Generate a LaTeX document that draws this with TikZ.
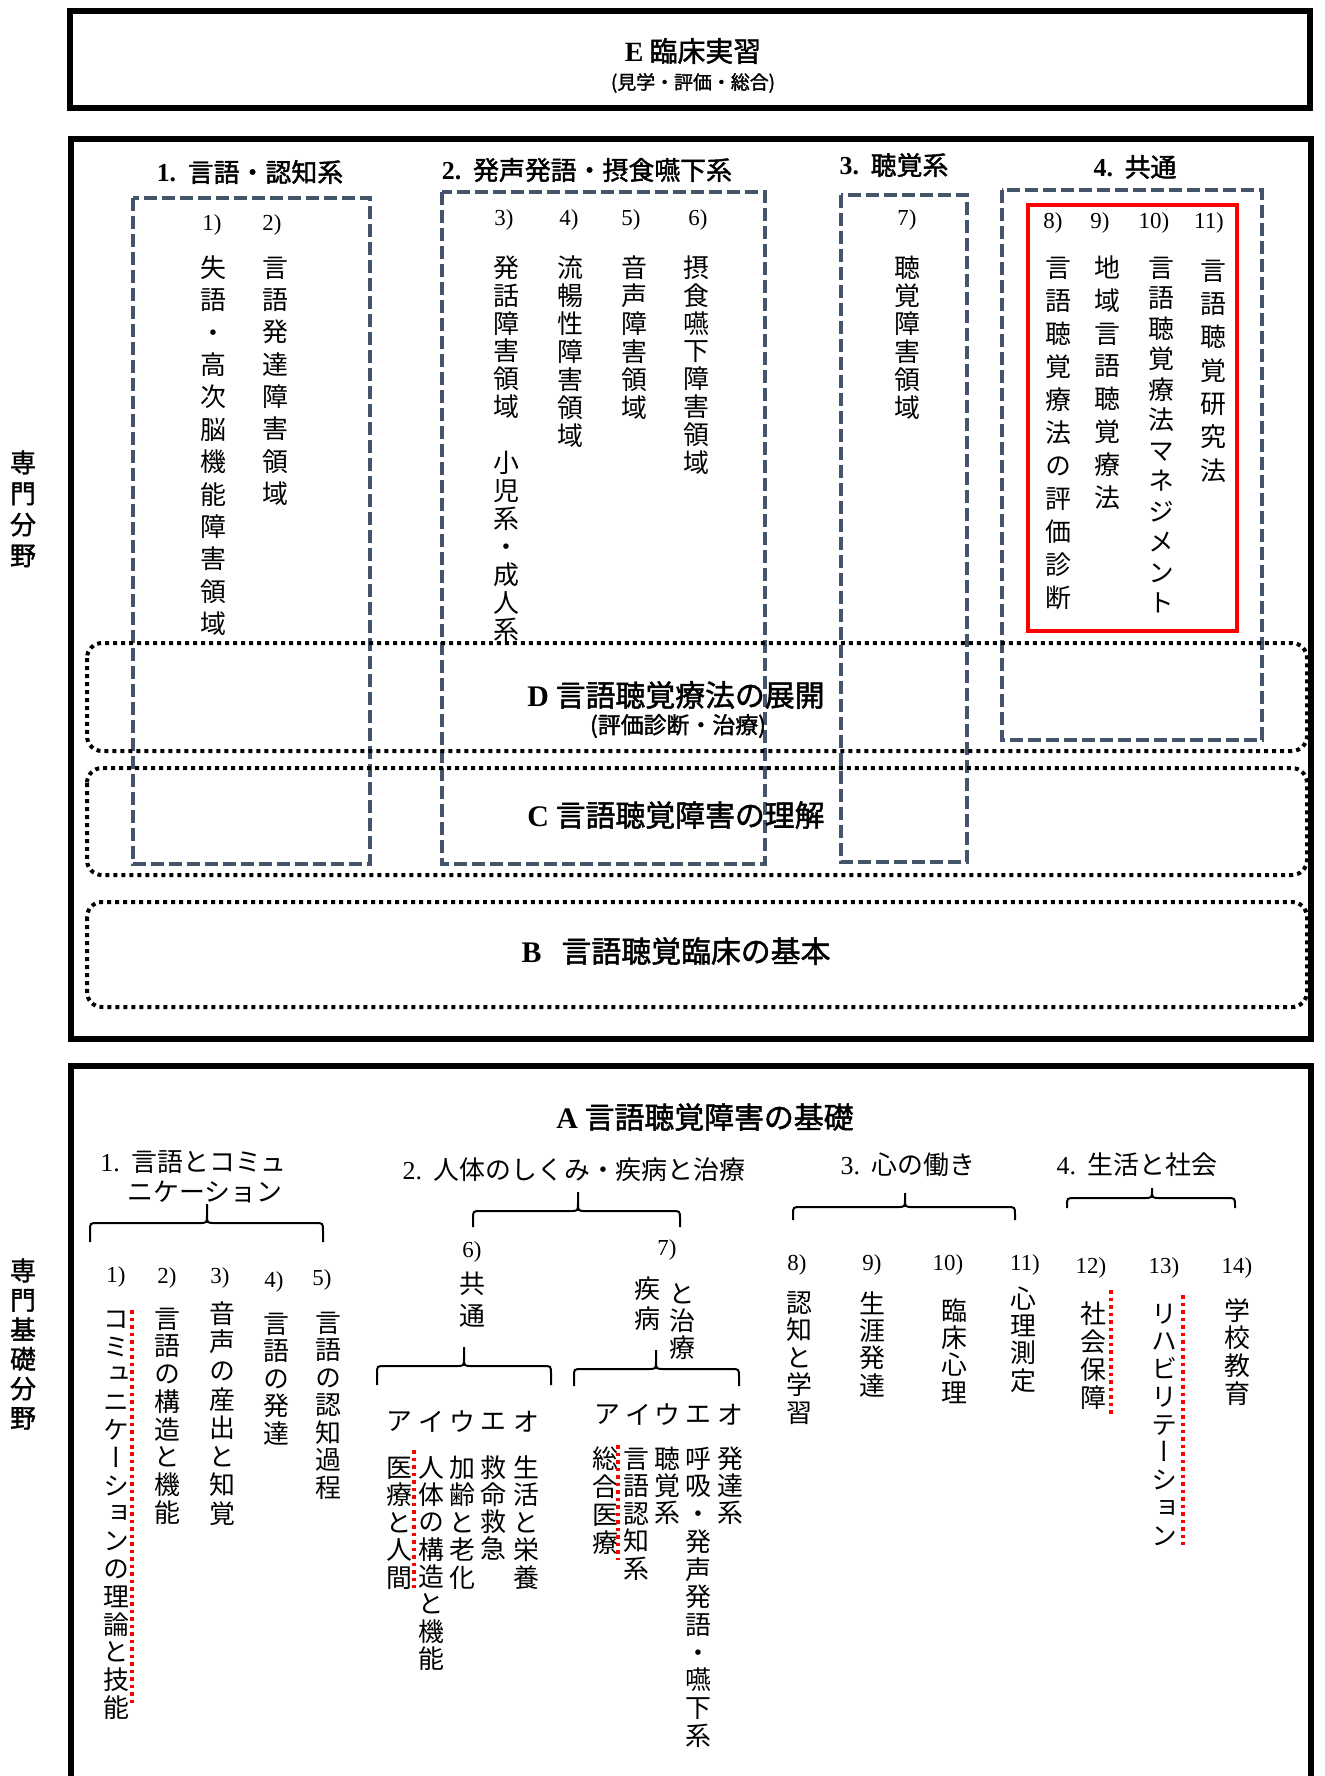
\documentclass[tikz,border=0pt]{standalone}
\usepackage{fontspec}
\setmainfont{Liberation Serif}
\newfontfamily\cjk{Noto Sans CJK JP}
\newfontfamily\cjkb{Noto Sans CJK JP}[FakeBold=1.6]
\newfontfamily\vjp{Noto Sans CJK JP}[RawFeature=+vert]
\newfontfamily\vjpb{Noto Sans CJK JP}[RawFeature=+vert,FakeBold=1.4]
\newlength\pxu \setlength\pxu{0.02cm}
\newlength\vtp
\newcommand\fs[1]{\fontsize{\fpeval{#1*0.5669}pt}{\fpeval{#1*0.68}pt}\selectfont}
\def\vtend{}
\def\vtloop#1{\ifx#1\vtend\else\vtchar{#1}\expandafter\vtloop\fi}
\newcommand\vtchar[1]{\hbox to 1.1em{\hss\vrule width 0pt height \dimexpr0.5\vtp+0.38em\relax depth \dimexpr0.5\vtp-0.38em\relax #1\hss}}
\newcommand\vt[2]{\setlength\vtp{#1\pxu}\vbox{\offinterlineskip\vtloop#2\vtend}}
\tikzset{
  vcol/.style={anchor=north, inner sep=0pt, font=\vjp\fs{26}},
  num/.style={inner sep=0pt, font=\rmfamily\fs{23}},
  hdr/.style={inner sep=0pt, font=\cjkb\fs{26}},
  bhdr/.style={inner sep=0pt, font=\cjk\fs{26}},
  big/.style={inner sep=0pt, font=\cjkb\fs{30}},
  frame/.style={draw=black, line width=0.12cm},
  dashbox/.style={draw={rgb,255:red,68;green,84;blue,106}, line width=0.07cm, dash pattern=on 0.26cm off 0.1cm},
  redbox/.style={draw=red, line width=0.09cm},
  dotbox/.style={draw=black, line width=0.08cm, dash pattern=on 0.08cm off 0.08cm, rounded corners=0.3cm},
  brk/.style={draw=black, line width=0.04cm},
  reddot/.style={draw=red, line width=0.07cm, dash pattern=on 0.07cm off 0.08cm},
}
\newcommand\vcol[6][]{\node[vcol,#1] (#2) at (#3,{#4-#5/2}) {\vt{#5}{#6}};}
\newcommand\mybrace[6]{% xl xt xr ytip yh yend
  \draw[brk] (#1,#6) -- (#1,{#5+8}) .. controls (#1,#5) .. ({#1+8},#5) -- ({#2-8},#5)
    .. controls (#2,#5) .. (#2,{#5-8}) -- (#2,#4) -- (#2,{#5-8}) .. controls (#2,#5) .. ({#2+8},#5)
    -- ({#3-8},#5) .. controls (#3,#5) .. (#3,{#5+8}) -- (#3,#6);}
\begin{document}
\begin{tikzpicture}[x=0.02cm,y=-0.02cm]
\useasboundingbox (0,0) rectangle (1325,1776);
\clip (0,0) rectangle (1325,1776);
\fill[white] (0,0) rectangle (1325,1776);

% ---------- E box ----------
\draw[frame] (70,11) rectangle (1310,108);
\node[inner sep=0pt, font=\cjkb\fs{28}] (Etitle) at (693,51) {{\rmfamily\bfseries E}\ 臨床実習};
\node[inner sep=0pt, font=\cjkb\fs{19}] (Esub) at (693,83) {(見学・評価・総合)};

% ---------- 専門分野 box ----------
\draw[frame] (71,139) rectangle (1311,1039);
\vcol[font=\vjpb\fs{26}]{L1}{23}{462}{31}{専門分野}

% dashed group boxes
\draw[dashbox] (133,198) rectangle (370,864);
\draw[dashbox] (442,192) rectangle (765,864);
\draw[dashbox] (841,195) rectangle (967,862);
\draw[dashbox] (1002,190) rectangle (1262,740);
\draw[redbox] (1028,205) rectangle (1237,631);

% dotted layer boxes
\draw[dotbox] (87,643) rectangle (1307,751);
\draw[dotbox] (87,768) rectangle (1307,875);
\draw[dotbox] (87,902) rectangle (1307,1007);

\node[big] (Dt) at (676,695) {{\rmfamily\bfseries D}\ 言語聴覚療法の展開};
\node[inner sep=0pt, font=\cjkb\fs{23}] (Ds) at (678,726) {(評価診断・治療)};
\node[big] (Ct) at (676,815) {{\rmfamily\bfseries C}\ 言語聴覚障害の理解};
\node[big] (Bt) at (676,951) {{\rmfamily\bfseries B}\ \ \ 言語聴覚臨床の基本};

% headers
\node[hdr] (h1) at (250,172) {{\rmfamily\bfseries 1.}\hspace{0.45em}言語・認知系};
\node[hdr] (h2) at (587,170) {{\rmfamily\bfseries 2.}\hspace{0.45em}発声発語・摂食嚥下系};
\node[hdr] (h3) at (894,165) {{\rmfamily\bfseries 3.}\hspace{0.45em}聴覚系};
\node[hdr] (h4) at (1135,167) {{\rmfamily\bfseries 4.}\hspace{0.45em}共通};

% numbers and columns (top)
\node[num] (t1) at (212,225) {1)};
\node[num] (t2) at (272,225) {2)};
\node[num] (t3) at (504,220) {3)};
\node[num] (t4) at (569,220) {4)};
\node[num] (t5) at (631,220) {5)};
\node[num] (t6) at (698,220) {6)};
\node[num] (t7) at (907,220) {7)};
\node[num] (t8) at (1053,223) {8)};
\node[num] (t9) at (1100,223) {9)};
\node[num] (t10) at (1154,223) {10)};
\node[num] (t11) at (1209,223) {11)};
\vcol{c1}{213}{267}{32.4}{失語・高次脳機能障害領域}
\vcol{c2}{275}{267}{32.3}{言語発達障害領域}
\vcol{c3}{506}{267}{27.9}{発話障害領域　小児系・成人系}
\vcol{c4}{570}{267}{28}{流暢性障害領域}
\vcol{c5}{634}{267}{28}{音声障害領域}
\vcol{c6}{696}{267}{27.9}{摂食嚥下障害領域}
\vcol{c7}{907}{267}{28}{聴覚障害領域}
\vcol{c8}{1058}{267}{33}{言語聴覚療法の評価診断}
\vcol{c9}{1107}{267}{32.9}{地域言語聴覚療法}
\vcol{c10}{1161}{267}{30.5}{言語聴覚療法マネジメント}
\vcol{c11}{1213}{270}{33.3}{言語聴覚研究法}

% ---------- 専門基礎分野 box ----------
\draw[frame] (71,1066) rectangle (1311,1810);
\vcol[font=\vjpb\fs{26}]{L2}{23}{1270}{29.5}{専門基礎分野}

\node[big] (At) at (705,1117) {{\rmfamily\bfseries A}\ 言語聴覚障害の基礎};

\node[bhdr, anchor=west] (g1a) at (100,1162) {{\rmfamily 1.}\hspace{0.45em}言語とコミュ};
\node[bhdr, anchor=west] (g1b) at (127,1192) {ニケーション};
\node[bhdr] (g2) at (574,1170) {{\rmfamily 2.}\hspace{0.45em}人体のしくみ・疾病と治療};
\node[bhdr] (g3) at (908,1165) {{\rmfamily 3.}\hspace{0.45em}心の働き};
\node[bhdr] (g4) at (1137,1165) {{\rmfamily 4.}\hspace{0.45em}生活と社会};

\mybrace{90}{207}{323}{1204}{1223}{1242}
\mybrace{473}{578}{680}{1192}{1211}{1227}
\mybrace{793}{905}{1015}{1193}{1207}{1220}
\mybrace{1067}{1152}{1235}{1188}{1198}{1208}
\mybrace{377}{464}{551}{1347}{1366}{1385}
\mybrace{574}{656}{739}{1350}{1369}{1386}

% group 1
\node[num] (b1) at (116,1277) {1)};
\node[num] (b2) at (167,1278) {2)};
\node[num] (b3) at (220,1278) {3)};
\node[num] (b4) at (274,1282) {4)};
\node[num] (b5) at (322,1280) {5)};
\vcol{d1}{116}{1318}{27.8}{コミュニケーションの理論と技能}
\vcol{d2}{167}{1318}{27.7}{言語の構造と機能}
\vcol{d3}{222}{1313}{28.6}{音声の産出と知覚}
\vcol{d4}{276}{1323}{27.5}{言語の発達}
\vcol{d5}{328}{1322}{27.5}{言語の認知過程}

% group 2
\node[num] (b6) at (472,1252) {6)};
\vcol{d6}{472}{1283}{32}{共通}
\node[num] (b7) at (667,1250) {7)};
\vcol{d7a}{647}{1288}{30}{疾病}
\vcol{d7b}{682}{1293}{27}{と治療}

\node[bhdr] (k6a) at (399,1422) {ア};
\node[bhdr] (k6b) at (431,1422) {イ};
\node[bhdr] (k6c) at (462,1422) {ウ};
\node[bhdr] (k6d) at (493,1422) {エ};
\node[bhdr] (k6e) at (526,1422) {オ};
\vcol{e1}{399}{1467}{27.5}{医療と人間}
\vcol{e2}{431}{1467}{27.3}{人体の構造と機能}
\vcol{e3}{462}{1467}{27.5}{加齢と老化}
\vcol{e4}{493}{1467}{27}{救命救急}
\vcol{e5}{526}{1467}{27.5}{生活と栄養}

\node[bhdr] (k7a) at (607,1415) {ア};
\node[bhdr] (k7b) at (638,1415) {イ};
\node[bhdr] (k7c) at (667,1415) {ウ};
\node[bhdr] (k7d) at (698,1415) {エ};
\node[bhdr] (k7e) at (730,1415) {オ};
\vcol{f1}{605}{1458}{28}{総合医療}
\vcol{f2}{636}{1458}{27.5}{言語認知系}
\vcol{f3}{667}{1458}{27}{聴覚系}
\vcol{f4}{698}{1458}{27.7}{呼吸・発声発語・嚥下系}
\vcol{f5}{730}{1458}{27}{発達系}

% group 3 and 4
\node[num] (b8) at (797,1265) {8)};
\node[num] (b9) at (872,1265) {9)};
\node[num] (b10) at (948,1265) {10)};
\node[num] (b11) at (1025,1265) {11)};
\node[num] (b12) at (1091,1268) {12)};
\node[num] (b13) at (1164,1268) {13)};
\node[num] (b14) at (1237,1268) {14)};
\vcol{d8}{799}{1302}{27.5}{認知と学習}
\vcol{d9}{872}{1303}{27.3}{生涯発達}
\vcol{d10}{954}{1310}{27.3}{臨床心理}
\vcol{d11}{1023}{1298}{27.3}{心理測定}
\vcol{d12}{1093}{1313}{28}{社会保障}
\vcol{d13}{1164}{1313}{27.75}{リハビリテーション}
\vcol{d14}{1237}{1310}{27.7}{学校教育}

% red dotted marks
\draw[reddot] (132,1310) -- (132,1705);
\draw[reddot] (414,1450) -- (414,1588);
\draw[reddot] (618,1445) -- (618,1560);
\draw[reddot] (1111,1290) -- (1111,1417);
\draw[reddot] (1183,1295) -- (1183,1545);
\end{tikzpicture}
\end{document}
